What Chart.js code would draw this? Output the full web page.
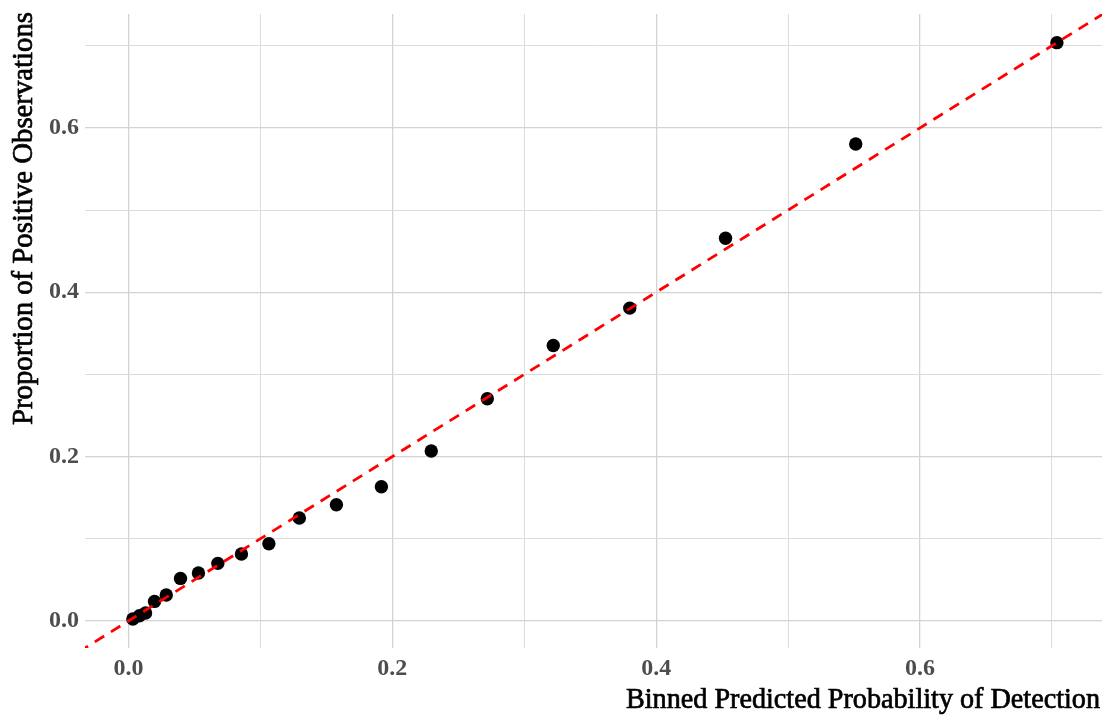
<!DOCTYPE html>
<html>
<head>
<meta charset="utf-8">
<script src="https://cdn.jsdelivr.net/npm/chart.js@4/dist/chart.umd.min.js"></script>
<style>
  html, body { margin: 0; padding: 0; background: #ffffff; }
  #wrap { width: 1110px; height: 721px; }
</style>
</head>
<body>
<div id="wrap"><canvas id="calib" width="1110" height="721"></canvas></div>
<script>
// Binned predicted probability vs. observed proportion of positives
const binnedPredicted = [0.0033, 0.0083, 0.0129, 0.0197, 0.0286, 0.0394, 0.0530, 0.0677, 0.0856, 0.1064,
                         0.1295, 0.1576, 0.1917, 0.2295, 0.2720, 0.3220, 0.3800, 0.4526, 0.5513, 0.7038];
const observedProportion = [0.0023, 0.0063, 0.0096, 0.0237, 0.0315, 0.0517, 0.0583, 0.0700, 0.0814, 0.0939,
                            0.1252, 0.1414, 0.1633, 0.2067, 0.2703, 0.3352, 0.3807, 0.4658, 0.5805, 0.7038];
// Reference line y = x
const identityLine = [-0.05, 0.76];
const xAxisTitle = 'Binned Predicted Probability of Detection';
const yAxisTitle = 'Proportion of Positive Observations';

const points = binnedPredicted.map((x, i) => ({ x: x, y: observedProportion[i] }));
const diagonal = identityLine.map(v => ({ x: v, y: v }));

const isMajor = v => Math.round(v * 10) % 2 === 0;
const tickLabel = v => isMajor(v) ? (Math.round(v * 10) / 10).toFixed(1) : '';
const gridColor = ctx => isMajor(ctx.tick ? ctx.tick.value : 0) ? '#d3d3d3' : '#dcdcdc';
const gridWidth = ctx => isMajor(ctx.tick ? ctx.tick.value : 0) ? 1.3 : 1;

// Draws the two axis titles in a narrow serif face
function drawNarrow(ctx, text, width) {
  const w = ctx.measureText(text).width;
  ctx.scale(width / w, 1);
  ctx.lineWidth = 0.7;
  ctx.strokeStyle = '#000000';
  ctx.strokeText(text, 0, 0);
  ctx.fillText(text, 0, 0);
}

const axisTitles = {
  id: 'axisTitles',
  afterDraw(chart) {
    const ctx = chart.ctx;
    const area = chart.chartArea;
    ctx.save();
    ctx.fillStyle = '#000000';
    ctx.font = '29px "Liberation Serif"';
    ctx.textBaseline = 'alphabetic';
    ctx.textAlign = 'right';

    ctx.save();
    ctx.translate(area.right - 2, area.bottom + 60);
    drawNarrow(ctx, xAxisTitle, 474);
    ctx.restore();

    ctx.save();
    ctx.translate(32, area.top - 2);
    ctx.rotate(-Math.PI / 2);
    drawNarrow(ctx, yAxisTitle, 413);
    ctx.restore();

    ctx.restore();
  }
};

new Chart(document.getElementById('calib'), {
  type: 'scatter',
  data: {
    datasets: [
      {
        type: 'line',
        data: diagonal,
        borderColor: '#ff0000',
        borderWidth: 2.8,
        borderDash: [11, 8],
        pointRadius: 0,
        fill: false,
        order: 0
      },
      {
        data: points,
        backgroundColor: '#000000',
        borderColor: '#000000',
        pointRadius: 6.7,
        pointHoverRadius: 6.7,
        borderWidth: 0,
        order: 1
      }
    ]
  },
  options: {
    responsive: false,
    animation: false,
    layout: { padding: { left: 0, right: 8, top: 14, bottom: 0 } },
    plugins: { legend: { display: false }, tooltip: { enabled: false } },
    scales: {
      x: {
        type: 'linear',
        min: -0.033,
        max: 0.738,
        afterFit(scale) { scale.height = 73; scale.paddingLeft = 0; scale.paddingRight = 0; },
        border: { display: false },
        grid: { color: gridColor, lineWidth: gridWidth, drawTicks: false },
        ticks: {
          stepSize: 0.1,
          includeBounds: false,
          autoSkip: false,
          maxRotation: 0,
          padding: 6,
          color: '#4d4d4d',
          font: { family: 'Liberation Serif', size: 24, weight: 'bold' },
          callback: tickLabel
        }
      },
      y: {
        type: 'linear',
        min: -0.033,
        max: 0.7387,
        afterFit(scale) { scale.width = 85; scale.paddingTop = 0; scale.paddingBottom = 0; },
        border: { display: false },
        grid: { color: gridColor, lineWidth: gridWidth, drawTicks: false },
        ticks: {
          stepSize: 0.1,
          includeBounds: false,
          autoSkip: false,
          padding: 6,
          color: '#4d4d4d',
          font: { family: 'Liberation Serif', size: 24, weight: 'bold' },
          callback: tickLabel
        }
      }
    }
  },
  plugins: [axisTitles]
});
</script>
</body>
</html>
